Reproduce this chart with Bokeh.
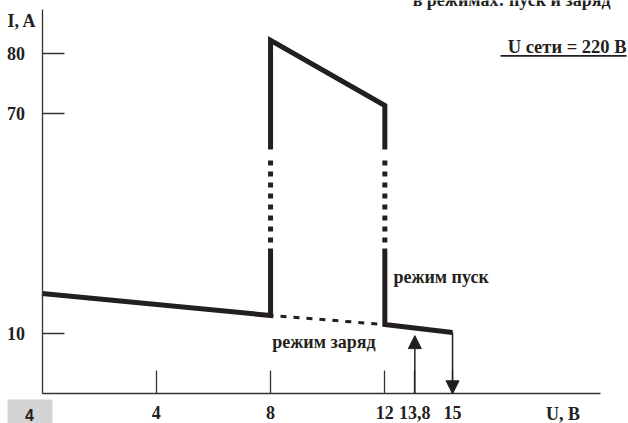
import numpy as np
from bokeh.plotting import figure
from bokeh.models import FixedTicker, Range1d, Arrow, NormalHead, ColumnDataSource
from bokeh.core.properties import value
from bokeh.embed import file_html
from bokeh.resources import INLINE

# ---------------- data (real units: U in volts, I in amperes) ----------------
CHARGE_U = [0, 8, 12, 15]            # "режим заряд" line
CHARGE_I = [16.7, 13.05, 11.55, 10.2]
START_U = [8, 8, 12, 12]             # upper part of "режим пуск"
START_I = [63.9, 82.1, 71.25, 63.9]
BREAK_I = [24.2, 63.9]               # axis break: lower / upper current
X_TICKS = [4, 8, 12, 13.8, 15]
X_TICK_LABELS = ["4", "8", "12", "13,8", "15"]
Y_TICKS = [10, 70, 80]
Y_TICK_LABELS = ["10", "70", "80"]
ARROW_U = [13.8, 15]
ARROW_FROM = [0, 10.2]
ARROW_TO = [9.7, 0]

# ---------------- schematic (broken) axis transforms ----------------
U_KNOTS = [0, 12, 13.8, 15, 30]
U_POS = [0, 12, 13.05, 14.37, 29.37]
I_KNOTS = [0, BREAK_I[0], BREAK_I[1], 200]
I_POS = [0, 24.2, 40.7, 176.8]


def xp(u):
    return np.interp(u, U_KNOTS, U_POS)


def yp(i):
    return np.interp(i, I_KNOTS, I_POS)


W, H = 628, 423
XS = -41.5 / 28.57
XE = XS + W / 28.57
YE = 393.3 / 6
YS = YE - H / 6

INK = "#231f20"
SERIF = value("Liberation Serif")

p = figure(width=W, height=H, x_range=Range1d(XS, XE), y_range=Range1d(YS, YE),
           output_backend="svg", toolbar_location=None,
           min_border=0, min_border_left=0, min_border_right=0,
           min_border_top=0, min_border_bottom=0)
p.outline_line_color = None
p.grid.visible = False
p.background_fill_color = "white"

# ---------------- axes ----------------
xa = p.xaxis[0]
xa.fixed_location = 0
xa.bounds = (0, 19.55)
xt = [round(float(v), 3) for v in xp(X_TICKS)]
xa.ticker = FixedTicker(ticks=xt)
xa.major_label_overrides = {t: l for t, l in zip(xt, X_TICK_LABELS)}
xa.major_tick_in = 23
xa.major_tick_out = 0
xa.minor_tick_line_color = None
xa.axis_line_color = "#333333"
xa.axis_line_width = 1.3
xa.major_tick_line_color = "#333333"
xa.major_tick_line_width = 1.3
xa.major_label_text_font = "Liberation Serif"
xa.major_label_text_font_style = "bold"
xa.major_label_text_font_size = "18px"
xa.major_label_text_color = INK
xa.major_label_standoff = 12

ya = p.yaxis[0]
ya.fixed_location = 0
ya.bounds = (0, 64.05)
yt = [round(float(v), 3) for v in yp(Y_TICKS)]
ya.ticker = FixedTicker(ticks=yt)
ya.major_label_overrides = {t: l for t, l in zip(yt, Y_TICK_LABELS)}
ya.major_tick_in = 22
ya.major_tick_out = 0
ya.minor_tick_line_color = None
ya.axis_line_color = "#333333"
ya.axis_line_width = 1.3
ya.major_tick_line_color = "#333333"
ya.major_tick_line_width = 1.3
ya.major_label_text_font = "Liberation Serif"
ya.major_label_text_font_style = "bold"
ya.major_label_text_font_size = "18px"
ya.major_label_text_color = INK
ya.major_label_standoff = 17

# ---------------- curves ----------------
LW = 5
p.line(xp([CHARGE_U[0], CHARGE_U[1], START_U[0]]),
       yp([CHARGE_I[0], CHARGE_I[1], BREAK_I[0]]),
       line_width=LW, line_color=INK, line_join="miter")
p.line(xp(CHARGE_U[1:3]), yp(CHARGE_I[1:3]), line_width=3, line_color=INK,
       line_dash="6 7", line_dash_offset=3)
p.line(xp([START_U[-1], CHARGE_U[2], CHARGE_U[3]]),
       yp([BREAK_I[0], CHARGE_I[2], CHARGE_I[3]]),
       line_width=LW, line_color=INK, line_join="miter")
p.line(xp(START_U), yp(START_I), line_width=LW, line_color=INK, line_join="miter")
top_d = yp(BREAK_I[1]) - 1.83
bot_d = top_d - 13.67
for u in (START_U[0], START_U[-1]):
    p.line(xp([u, u]), [top_d, bot_d], line_width=LW, line_color=INK, line_dash="5 6")

asrc = ColumnDataSource(dict(x0=xp(ARROW_U), y0=yp(ARROW_FROM), x1=xp(ARROW_U), y1=yp(ARROW_TO)))
p.add_layout(Arrow(end=NormalHead(size=13, fill_color=INK, line_color=INK, line_width=1),
                   x_start="x0", y_start="y0", x_end="x1", y_end="y1", source=asrc,
                   line_color=INK, line_width=1.5))

# ---------------- texts ----------------
def txt(x, y, s, align="left", size="18px", font=SERIF, style="bold", color=INK):
    p.text(x=[x], y=[y], text=[s], text_align=align, text_baseline="alphabetic",
           text_font=font, text_font_style=style, text_font_size=size, text_color=color)


txt(19.9, 65.71, "в режимах: пуск и заряд", align="right")
txt(-1.2075, 62.16, "I, A")
txt(8.06, 8.6, "режим заряд")
txt(12.30, 19.43, "режим пуск")
txt(20.46, 57.88, "U сети = 220 В", align="right", size="18.5px")
p.segment(x0=[16.05], y0=[56.33], x1=[20.46], y1=[56.33], line_color=INK, line_width=1.7)
txt(18.24, -3.34, "U, B", align="center")

p.quad(left=[-1.2075], right=[0.3675], top=[-0.95], bottom=[YS], fill_color="#d4d4d4", line_color=None)
txt(-0.4375, -3.5, "4", align="center", size="16px", font=value("Liberation Sans"))

open("out.html", "w").write(file_html(p, INLINE))
